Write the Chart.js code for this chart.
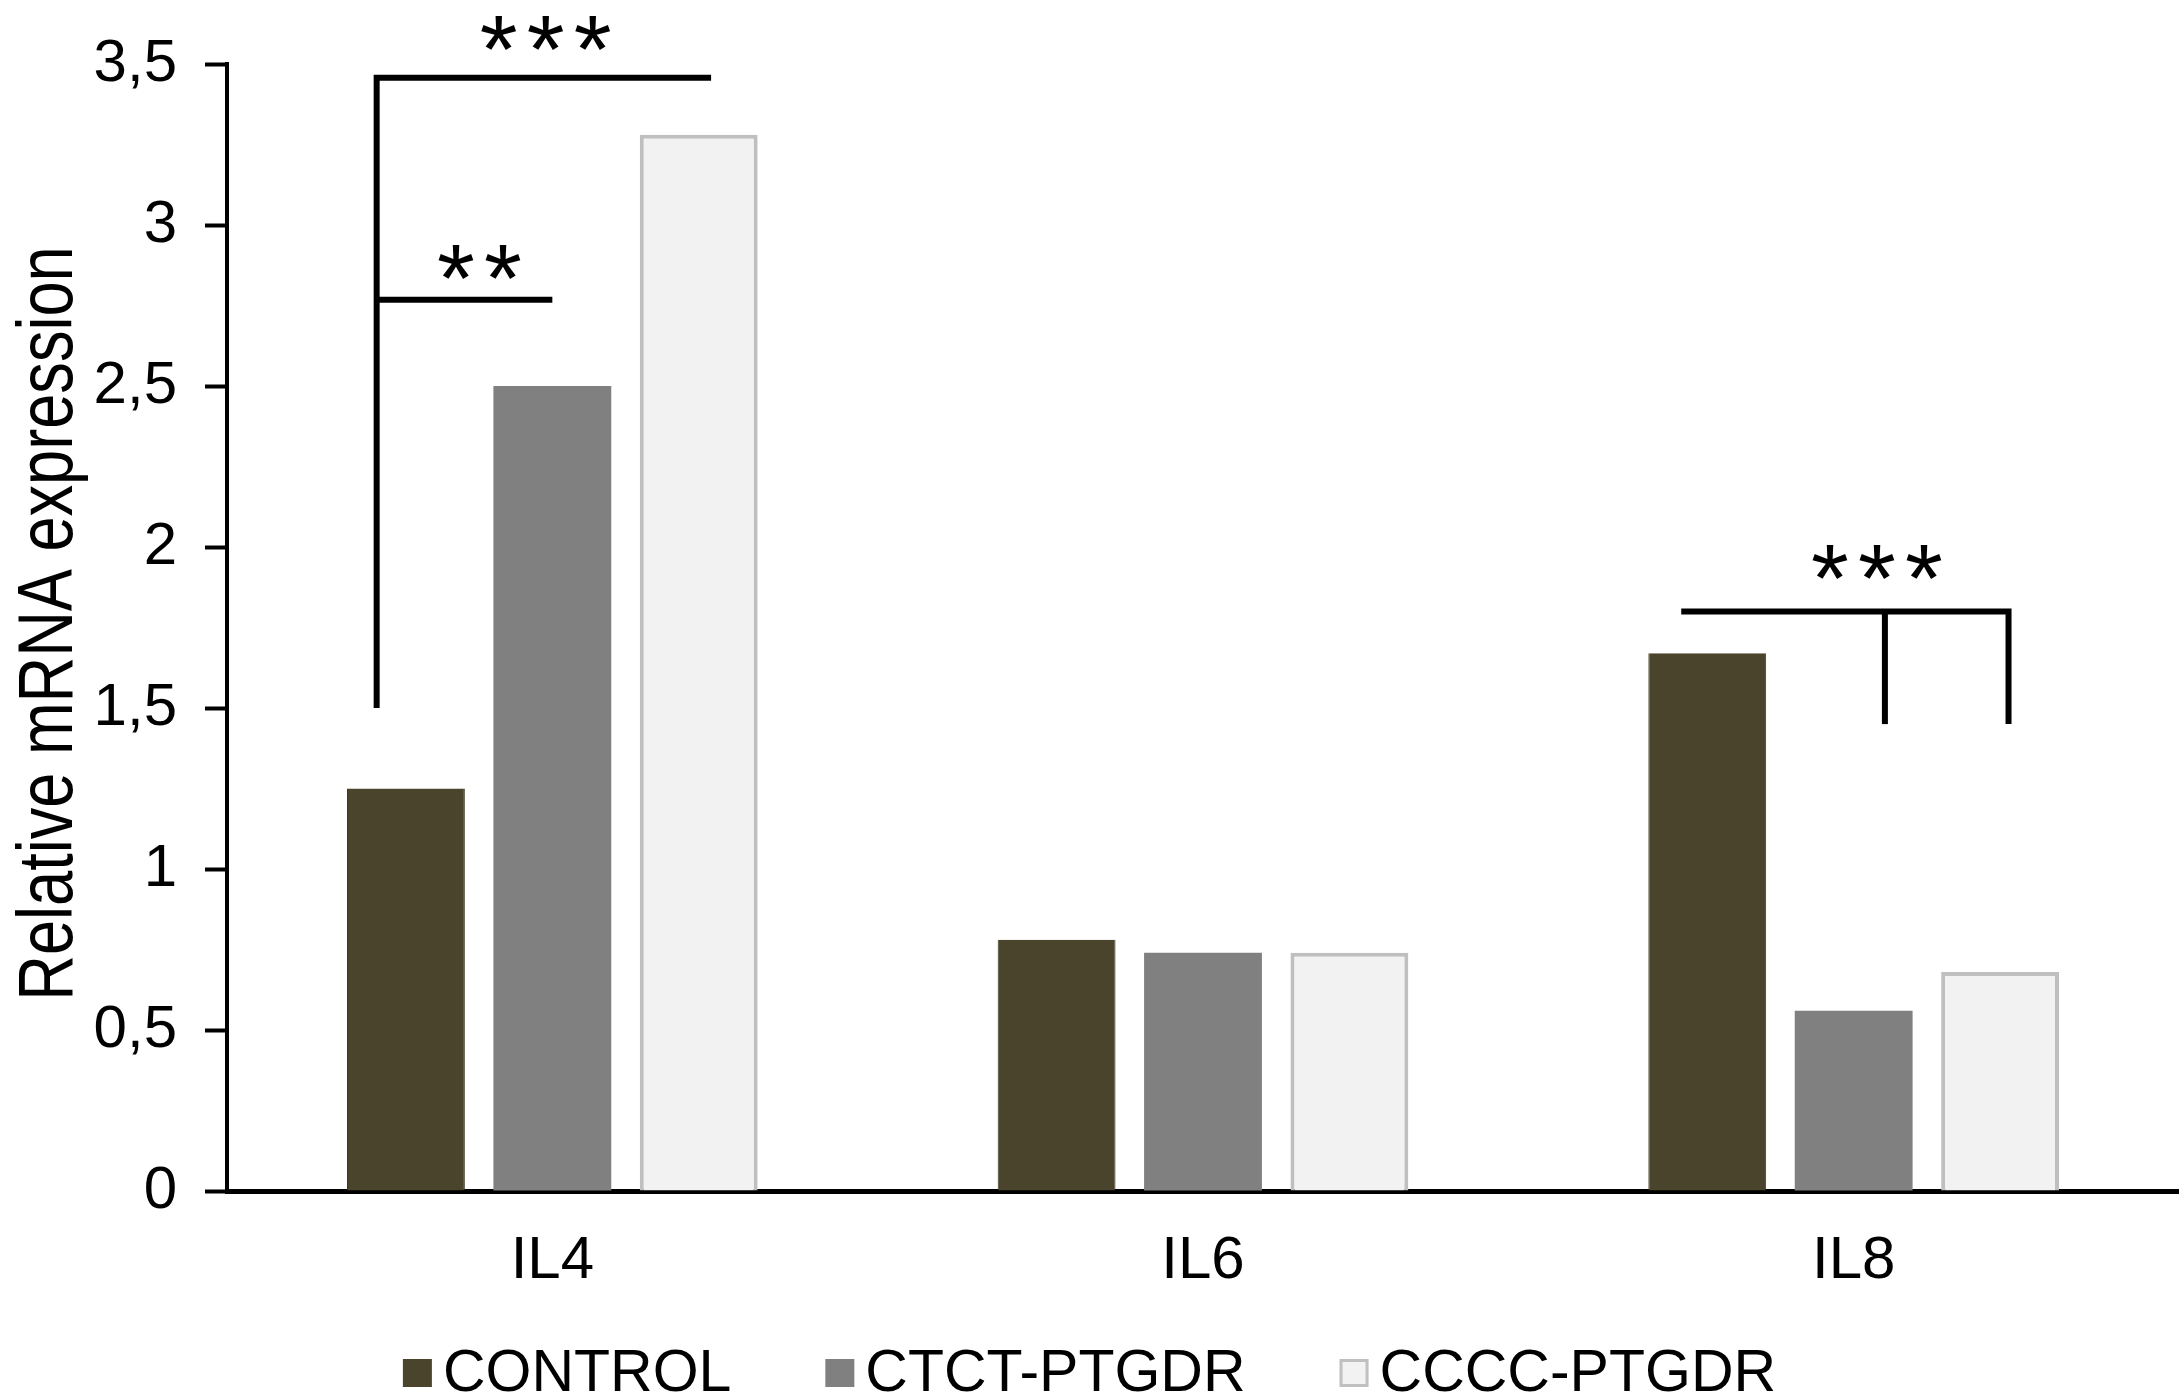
<!DOCTYPE html>
<html>
<head>
<meta charset="utf-8">
<script src="https://cdn.jsdelivr.net/npm/chart.js@4.4.1/dist/chart.umd.min.js"></script>
<style>
  html, body { margin: 0; padding: 0; background: #ffffff; }
  #wrap { width: 2179px; height: 1399px; position: relative; }
</style>
</head>
<body>
<div id="wrap"><canvas id="chart" width="2179" height="1399"></canvas></div>
<script>
// Genes on the x axis
const genes = ['IL4', 'IL6', 'IL8'];
// Series (genotype groups)
const seriesNames = ['CONTROL', 'CTCT-PTGDR', 'CCCC-PTGDR'];
const controlValues = [1.25, 0.78, 1.67];
const ctctValues = [2.50, 0.74, 0.56];
const ccccValues = [3.28, 0.74, 0.68];
// Value axis
const yTickLabels = ['0', '0,5', '1', '1,5', '2', '2,5', '3', '3,5'];
const yTitle = 'Relative mRNA expression';

// Significance brackets as polylines in (category index, value) units
const brackets = [
  [[-0.27, 1.5], [-0.27, 3.457], [0.244, 3.457]],
  [[-0.27, 2.768], [0.0, 2.768]],
  [[1.735, 1.8], [2.238, 1.8], [2.238, 1.45]],
  [[2.048, 1.8], [2.048, 1.45]]
];
// Significance stars: text, category index, value
const starLabels = [
  ['***', -0.01, 3.596],
  ['**', -0.112, 2.886],
  ['***', 2.036, 1.953]
];

const FONT = '"Liberation Sans", Arial, sans-serif';

// Brackets and asterisks above the bars
const significancePlugin = {
  id: 'significance',
  afterDatasetsDraw(chart) {
    const { ctx, scales: { x, y } } = chart;
    ctx.save();
    ctx.strokeStyle = '#000';
    ctx.lineWidth = 6;
    ctx.lineJoin = 'miter';
    ctx.lineCap = 'butt';
    brackets.forEach(pts => {
      ctx.beginPath();
      pts.forEach((p, i) => {
        const px = x.getPixelForValue(p[0]);
        const py = y.getPixelForValue(p[1]);
        if (i === 0) ctx.moveTo(px, py); else ctx.lineTo(px, py);
      });
      ctx.stroke();
    });

    // asterisks drawn one by one, sized by glyph height
    const starH = 35, pitch = 47;
    ctx.font = '100px ' + FONT;
    let m = ctx.measureText('*');
    const size = 100 * starH / (m.actualBoundingBoxAscent + m.actualBoundingBoxDescent);
    ctx.font = size.toFixed(1) + 'px ' + FONT;
    m = ctx.measureText('*');
    ctx.fillStyle = '#000';
    ctx.textAlign = 'left';
    ctx.textBaseline = 'alphabetic';
    starLabels.forEach(([txt, xi, v]) => {
      const cx = x.getPixelForValue(xi);
      const cy = y.getPixelForValue(v);
      const n = txt.length;
      for (let k = 0; k < n; k++) {
        const sx = cx + (k - (n - 1) / 2) * pitch;
        const gx = sx - (m.actualBoundingBoxRight - m.actualBoundingBoxLeft) / 2;
        const gy = cy + (m.actualBoundingBoxAscent - m.actualBoundingBoxDescent) / 2;
        ctx.fillText('*', gx, gy);
      }
    });
    ctx.restore();
  }
};

// Rotated, slightly condensed y-axis title
const yTitlePlugin = {
  id: 'yTitle',
  afterDraw(chart) {
    const { ctx, chartArea } = chart;
    ctx.save();
    ctx.translate(72, (chartArea.top + chartArea.bottom) / 2 - 4);
    ctx.rotate(-Math.PI / 2);
    ctx.scale(0.82, 1);
    ctx.font = '77px ' + FONT;
    ctx.fillStyle = '#000';
    ctx.textAlign = 'center';
    ctx.textBaseline = 'alphabetic';
    ctx.fillText(yTitle, 0, 0);
    ctx.restore();
  }
};

// Legend row along the bottom edge
const legendPlugin = {
  id: 'bottomLegend',
  afterDraw(chart) {
    const ctx = chart.ctx;
    const boxW = 29, boxH = 28, textGap = 11, itemGap = 94;
    const baseY = chart.height - 8;
    ctx.save();
    ctx.font = '59px ' + FONT;
    const items = chart.data.datasets.map(ds => ({ ds, w: ctx.measureText(ds.label).width }));
    const total = items.reduce((a, it) => a + boxW + textGap + it.w, 0) + itemGap * (items.length - 1);
    let xPos = (chart.width - total) / 2;
    items.forEach(({ ds, w }) => {
      const top = baseY - 32;
      ctx.fillStyle = ds.backgroundColor;
      ctx.fillRect(xPos, top, boxW, boxH);
      if (ds.legendOutline) {
        ctx.strokeStyle = ds.legendOutline;
        ctx.lineWidth = 3;
        ctx.strokeRect(xPos + 1.5, top + 1.5, boxW - 3, boxH - 3);
      }
      ctx.fillStyle = '#000';
      ctx.textAlign = 'left';
      ctx.textBaseline = 'alphabetic';
      ctx.fillText(ds.label, xPos + boxW + textGap, baseY);
      xPos += boxW + textGap + w + itemGap;
    });
    ctx.restore();
  }
};

new Chart(document.getElementById('chart'), {
  type: 'bar',
  data: {
    labels: genes,
    datasets: [
      {
        label: seriesNames[0], data: controlValues,
        backgroundColor: '#4a442c', borderColor: '#3b361f',
        borderWidth: { left: 1, right: 1, top: 0, bottom: 0 }
      },
      {
        label: seriesNames[1], data: ctctValues,
        backgroundColor: '#808080', borderWidth: 0
      },
      {
        label: seriesNames[2], data: ccccValues,
        backgroundColor: '#f2f2f2', borderColor: '#bfbfbf', borderWidth: 4,
        legendOutline: '#c0c0c0'
      }
    ]
  },
  options: {
    responsive: false,
    animation: false,
    devicePixelRatio: 1,
    layout: { padding: { top: 62, right: 0, bottom: 0, left: 0 } },
    datasets: { bar: { categoryPercentage: 0.675, barPercentage: 0.805 } },
    plugins: { legend: { display: false }, tooltip: { enabled: false } },
    scales: {
      x: {
        grid: { display: false, drawTicks: false },
        border: { display: true, color: '#000', width: 5 },
        ticks: { font: { family: FONT, size: 60 }, color: '#000', padding: 34, maxRotation: 0 },
        afterFit(s) { s.height = 208; }
      },
      y: {
        min: 0, max: 3.5,
        ticks: {
          stepSize: 0.5,
          callback: (v, i) => yTickLabels[i],
          font: { family: FONT, size: 60 }, color: '#000', padding: 28
        },
        grid: { display: true, drawOnChartArea: false, drawTicks: true, tickLength: 22, tickWidth: 4, tickColor: '#000' },
        border: { display: true, color: '#000', width: 4 },
        afterFit(s) { s.width = 227; }
      }
    }
  },
  plugins: [significancePlugin, yTitlePlugin, legendPlugin]
});
</script>
</body>
</html>
